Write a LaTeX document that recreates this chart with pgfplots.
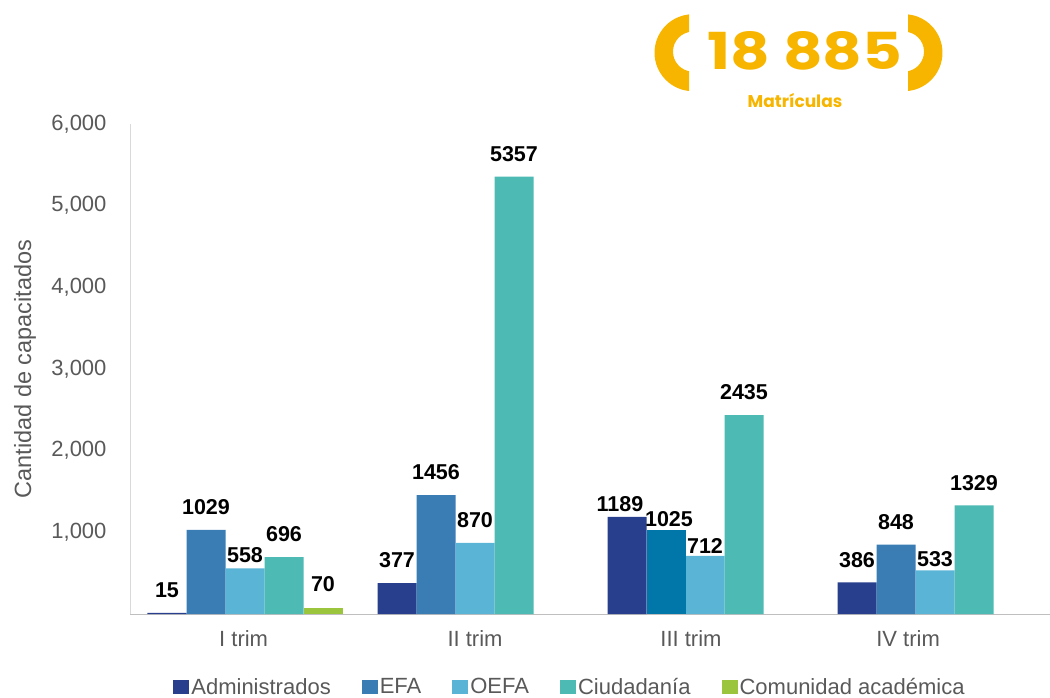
\documentclass[border=0pt]{standalone}
\usepackage{pgfplots}
\usepackage{pgfplotstable}
\pgfplotsset{compat=1.18}
\usepackage{fontspec}
\setmainfont{Liberation Sans}
\newfontfamily\pop{Poppins}[FakeStretch=1.2]
\newfontfamily\popn{Poppins}
\definecolor{cAdm}{HTML}{283F8E}
\definecolor{cEFA}{HTML}{3A7DB5}
\definecolor{cEFAb}{HTML}{0077A8}
\definecolor{cOEFA}{HTML}{5AB4D6}
\definecolor{cCiu}{HTML}{4DBAB3}
\definecolor{cCom}{HTML}{9BC53D}
\definecolor{cTit}{HTML}{F7B500}
\definecolor{cTxt}{HTML}{595959}
\pgfplotstableread{
x y dy dx
0 15 15 0
1 377 15 0
2 1189 5 -7
3 386 15 0
}\tabAdm
\pgfplotstableread{
x y dy dx
0 1029 15 0
1 1456 15 0
3 848 15 0
}\tabEFA
\pgfplotstableread{
x y dy dx
2 1025 3 3
}\tabEFAb
\pgfplotstableread{
x y dy dx
0 558 6 0
1 870 15 0
2 712 2 0
3 533 4 0
}\tabOEFA
\pgfplotstableread{
x y dy dx
0 696 15 0
1 5357 15 0
2 2435 15 0
3 1329 15 0
}\tabCiu
\pgfplotstableread{
x y dy dx
0 70 16 0
}\tabCom
\begin{document}
\begin{tikzpicture}
\path[use as bounding box] (0pt,0pt) rectangle (1050pt,697pt);
% title decoration
\fill[cTit] (689pt,682pt) -- (689pt,665pt) arc[start angle=101.5, end angle=258.5, radius=20pt] -- (689pt,606pt) arc[start angle=264, end angle=96, radius=38.5pt] -- cycle;
\fill[cTit] (908pt,682pt) -- (908pt,665pt) arc[start angle=78.5, end angle=-78.5, radius=20pt] -- (908pt,606pt) arc[start angle=-84, end angle=84, radius=38.5pt] -- cycle;
\node[text=cTit, font=\pop\bfseries\fontsize{51}{54}\selectfont, inner sep=0pt] at (805pt,646pt) {18 885};
\node[text=cTit, font=\popn\bfseries\fontsize{17}{19}\selectfont, inner sep=0pt] at (795pt,596pt) {Matrículas};
\begin{axis}[
  at={(130pt,83pt)}, anchor=south west,
  scale only axis, width=920pt, height=490pt,
  xmin=-0.5, xmax=3.5, ymin=0, ymax=6000,
  ybar, bar width=39pt,
  axis x line*=bottom, axis y line*=left,
  x axis line style={draw=black!25, line width=1pt, -},
  y axis line style={draw=black!15, line width=1pt, -},
  xtick={-0.006,1.0,1.939,2.883},
  xticklabels={I trim, II trim, III trim, IV trim},
  ytick={1000,2000,3000,4000,5000,6000},
  major tick length=0pt,
  tick label style={text=cTxt, font=\fontsize{22}{24}\selectfont},
  /pgf/number format/assume math mode=true,
  /pgf/number format/.cd, 1000 sep={,}, /pgfplots/.cd,
  yticklabel style={xshift=-20pt},
  xticklabel style={yshift=-13pt},
  ylabel={Cantidad de capacitados},
  every axis y label/.style={at={(-105pt,0.5)}, rotate=90, anchor=center, text=cTxt, font=\fontsize{23.5}{25}\selectfont},
  nodes near coords,
  visualization depends on={\thisrow{dy}\as\labdy},
  visualization depends on={\thisrow{dx}\as\labdx},
  every node near coord/.append style={text=black, inner sep=0pt, anchor=south, yshift=\labdy pt, xshift=\labdx pt,
    font=\bfseries\fontsize{21.5}{23}\selectfont, /pgf/number format/assume math mode=true},
  nodes near coords style={/pgf/number format/.cd, 1000 sep={}},
  legend columns=5,
  legend style={at={(440pt,-73pt)}, anchor=center, draw=none, fill=none,
    font=\fontsize{22}{24}\selectfont, text=cTxt,
    /tikz/every even column/.append style={column sep=29pt}},
  legend image code/.code={\path (0pt,-7pt) rectangle (16pt,7pt); \fill[#1] (0pt,-7pt) rectangle (14pt,7pt);},
]
\addplot[fill=cAdm, draw=none, bar shift=-78pt] table[x=x,y=y] {\tabAdm};
\addlegendentry{Administrados}
\addplot[fill=cEFA, draw=none, bar shift=-39pt] table[x=x,y=y] {\tabEFA};
\addlegendentry{EFA}
\addplot[fill=cOEFA, draw=none, bar shift=0pt] table[x=x,y=y] {\tabOEFA};
\addlegendentry{OEFA}
\addplot[fill=cCiu, draw=none, bar shift=39pt] table[x=x,y=y] {\tabCiu};
\addlegendentry{Ciudadanía}
\addplot[fill=cCom, draw=none, bar shift=78pt] table[x=x,y=y] {\tabCom};
\addlegendentry{Comunidad académica}
\addplot[fill=cEFAb, draw=none, bar shift=-39pt, forget plot] table[x=x,y=y] {\tabEFAb};
\end{axis}
\end{tikzpicture}
\end{document}
